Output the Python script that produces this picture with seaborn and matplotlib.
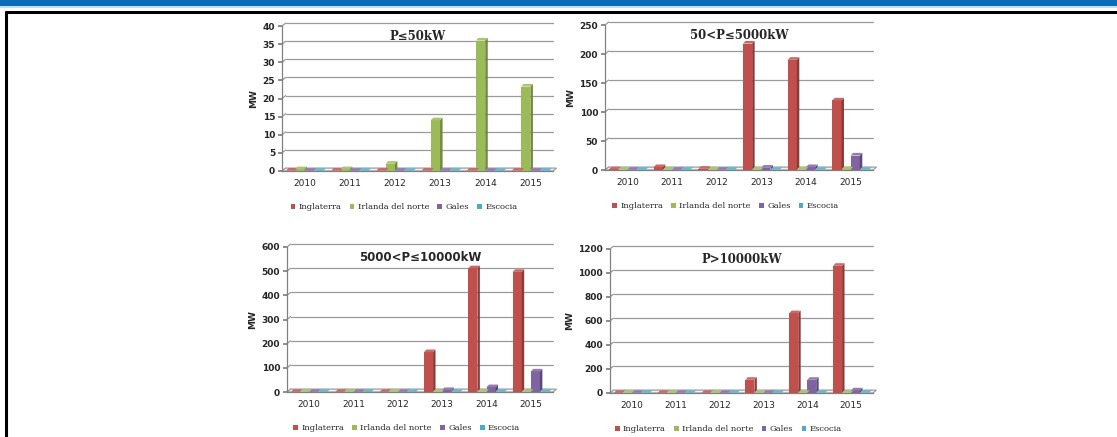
import numpy as np
import pandas as pd
import matplotlib
matplotlib.use("Agg")
import matplotlib.pyplot as plt
from matplotlib.patches import Polygon, Rectangle
from matplotlib.lines import Line2D
import matplotlib.colors as mcolors
import seaborn as sns

years = ["2010", "2011", "2012", "2013", "2014", "2015"]
regions = ["Inglaterra", "Irlanda del norte", "Gales", "Escocia"]
colors = ["#C0504D", "#9BBB59", "#8064A2", "#4BACC6"]

# Installed capacity (MW) per size band
band_titles = ["P≤50kW", "50<P≤5000kW", "5000<P≤10000kW", "P>10000kW"]
title_fonts = ["DejaVu Serif", "DejaVu Serif", "DejaVu Sans", "DejaVu Serif"]

p50_inglaterra = [0.1, 0.1, 0.1, 0.1, 0.1, 0.1]
p50_irlanda = [0.5, 0.5, 2.0, 14.0, 36.0, 23.3]
p50_gales = [0.05, 0.05, 0.05, 0.05, 0.05, 0.05]
p50_escocia = [0.05, 0.05, 0.05, 0.05, 0.05, 0.05]

p5000_inglaterra = [1.0, 5.0, 2.0, 218.0, 190.0, 120.0]
p5000_irlanda = [0.3, 0.3, 0.3, 0.5, 0.5, 1.0]
p5000_gales = [0.3, 0.3, 0.3, 4.0, 5.0, 25.0]
p5000_escocia = [0.3, 0.3, 0.3, 0.3, 0.3, 0.3]

p10000_inglaterra = [0.5, 0.5, 0.5, 165.0, 512.0, 497.0]
p10000_irlanda = [0.5, 0.5, 0.5, 0.5, 0.5, 0.5]
p10000_gales = [0.5, 0.5, 0.5, 8.0, 20.0, 85.0]
p10000_escocia = [0.5, 0.5, 0.5, 0.5, 0.5, 0.5]

pbig_inglaterra = [1.0, 1.0, 1.0, 110.0, 665.0, 1060.0]
pbig_irlanda = [1.0, 1.0, 1.0, 1.0, 1.0, 1.0]
pbig_gales = [1.0, 1.0, 1.0, 1.0, 110.0, 22.0]
pbig_escocia = [1.0, 1.0, 1.0, 1.0, 1.0, 1.0]

band_series = [
    [p50_inglaterra, p50_irlanda, p50_gales, p50_escocia],
    [p5000_inglaterra, p5000_irlanda, p5000_gales, p5000_escocia],
    [p10000_inglaterra, p10000_irlanda, p10000_gales, p10000_escocia],
    [pbig_inglaterra, pbig_irlanda, pbig_gales, pbig_escocia],
]
y_limits = [40, 250, 600, 1200]
y_steps = [5, 50, 100, 200]

sns.set_theme(style="white")
plt.rcParams["font.family"] = ["DejaVu Serif"]

fig = plt.figure(figsize=(11.17, 4.37), dpi=100)

# page decoration: blue band on top and a black frame
fig.add_artist(Rectangle((0, 1 - 6 / 437), 1, 6 / 437, transform=fig.transFigure,
                         facecolor="#0B6DB7", edgecolor="none"))
fig.add_artist(Rectangle((0, 1 - 8 / 437), 1, 2 / 437, transform=fig.transFigure,
                         facecolor="#BFE3F5", edgecolor="none"))
fig.add_artist(Line2D([6 / 1117, 1], [1 - 12 / 437, 1 - 12 / 437], transform=fig.transFigure,
                      color="black", lw=2.2))
fig.add_artist(Line2D([6 / 1117, 6 / 1117], [0, 1 - 12 / 437], transform=fig.transFigure,
                      color="black", lw=2.2))

# axes boxes in pixels: left, right, y of zero line, y of top line
boxes = [
    (282, 553, 171, 26),
    (605, 873, 170, 25),
    (287, 553, 392, 247),
    (610, 873, 393, 249),
]


def shade(c, f):
    r, g, b = mcolors.to_rgb(c)
    return (r * f, g * f, b * f)


def lighten(c, f):
    r, g, b = mcolors.to_rgb(c)
    return (r + (1 - r) * f, g + (1 - g) * f, b + (1 - b) * f)


for i in range(4):
    left, right, y0, y1 = boxes[i]
    ax = fig.add_axes([left / 1117, 1 - y0 / 437, (right - left) / 1117, (y0 - y1) / 437])

    rows = []
    for reg, vals in zip(regions, band_series[i]):
        for yr, v in zip(years, vals):
            rows.append({"Año": yr, "Región": reg, "MW": v})
    df = pd.DataFrame(rows)

    ymax = y_limits[i]
    ax.set_ylim(0, ymax)
    ax.set_xlim(-0.5, 5.5)
    ax.set_yticks(np.arange(0, ymax + 0.1, y_steps[i]))

    # back-wall grid lines (slightly shifted to suggest depth)
    dy_wall = ymax * 0.02
    for t in ax.get_yticks():
        ax.plot([-0.42, 5.5], [t + dy_wall, t + dy_wall], color="#9A9A9A", lw=0.9,
                zorder=0, clip_on=False)
        ax.plot([-0.5, -0.42], [t, t + dy_wall], color="#9A9A9A", lw=0.9,
                zorder=0, clip_on=False)

    sns.barplot(data=df, x="Año", y="MW", hue="Región", hue_order=regions,
                palette=colors, width=0.82, saturation=1, ax=ax,
                edgecolor="none", legend=False, zorder=3)

    # 3D look: side and top faces built from each drawn bar
    dx = 0.055
    dy = ymax * 0.018
    bar_patches = [p for p in ax.patches if isinstance(p, Rectangle)]
    for k, p in enumerate(bar_patches):
        x, y = p.get_x(), p.get_y()
        w, h = p.get_width(), p.get_height()
        c = p.get_facecolor()
        side = Polygon([(x + w, y), (x + w + dx, y + dy), (x + w + dx, y + h + dy), (x + w, y + h)],
                       closed=True, facecolor=shade(c, 0.72), edgecolor="none", zorder=3)
        top = Polygon([(x, y + h), (x + dx, y + h + dy), (x + w + dx, y + h + dy), (x + w, y + h)],
                      closed=True, facecolor=lighten(c, 0.15), edgecolor="none", zorder=3)
        ax.add_patch(side)
        ax.add_patch(top)

    # floor
    floor = Polygon([(-0.5, 0), (-0.42, dy_wall), (5.58, dy_wall), (5.5, 0)], closed=True,
                    facecolor="#F2F2F2", edgecolor="#9A9A9A", lw=0.8, zorder=1, clip_on=False)
    ax.add_patch(floor)

    for s in ["top", "right"]:
        ax.spines[s].set_visible(False)
    ax.spines["left"].set_color("#808080")
    ax.spines["bottom"].set_color("#808080")
    ax.spines["left"].set_linewidth(0.9)
    ax.spines["bottom"].set_linewidth(0.9)

    ax.set_xticks(range(6))
    ax.set_xticklabels(years)
    ax.set_xticks(np.arange(-0.5, 6.0, 1.0), minor=True)
    ax.tick_params(axis="x", which="major", length=0, pad=6)
    ax.tick_params(axis="x", which="minor", length=3, color="#808080", direction="out")
    ax.tick_params(axis="y", length=3, color="#808080", direction="out", pad=2, left=True)
    for lbl in ax.get_yticklabels():
        lbl.set_fontweight("bold")
        lbl.set_fontfamily("DejaVu Sans")
        lbl.set_fontsize(6.5)
    for lbl in ax.get_xticklabels():
        lbl.set_fontfamily("DejaVu Sans")
        lbl.set_fontsize(6.5)

    ax.set_xlabel("")
    ax.set_ylabel("MW", fontsize=6.5, fontweight="bold", family="DejaVu Sans", labelpad=3)
    ax.grid(False)

    ax.text(0.5, 0.93, band_titles[i], transform=ax.transAxes, ha="center", va="center",
            fontsize=8.5, fontweight="bold", family=title_fonts[i])

    handles = [Rectangle((0, 0), 1, 1, facecolor=c, edgecolor="none") for c in colors]
    ax.legend(handles, regions, loc="upper center", bbox_to_anchor=(0.45, -0.17), ncol=4,
              frameon=False, handlelength=0.55, handleheight=0.55, handletextpad=0.4,
              columnspacing=1.0, prop={"family": "DejaVu Serif", "size": 6})

fig.savefig("out.png", dpi=100)
